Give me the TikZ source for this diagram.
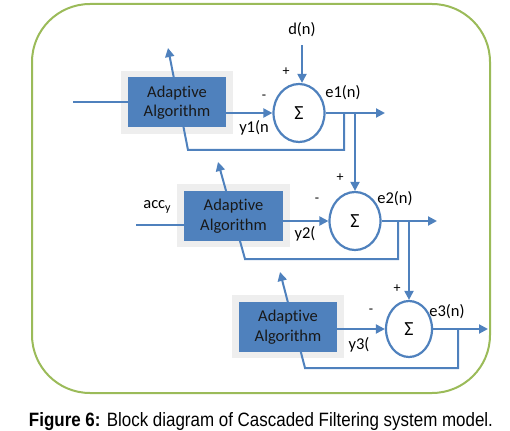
\documentclass[tikz,border=0pt]{standalone}
\usepackage{fontspec}
\setmainfont{Carlito}[Ligatures=NoCommon]
\newfontfamily\capfont{Liberation Sans}
\usetikzlibrary{arrows.meta,positioning,calc,shapes.geometric}
\definecolor{dgblue}{HTML}{4F81BD}
\definecolor{dggreen}{HTML}{9BBB59}
\definecolor{dggray}{HTML}{EEEEEE}

\begin{document}
\begin{tikzpicture}[
  x=1pt, y=-1pt,
  font=\fontsize{16.5}{19.5}\selectfont,
  algbox/.style={fill=dgblue, text=black!90, align=center, minimum width=98pt,
                 minimum height=50pt, inner sep=0pt},
  shadebox/.style={fill=dggray, minimum width=112pt, minimum height=63pt, inner sep=0pt},
  sumnode/.style={ellipse, draw=dgblue, line width=2.2pt, fill=white, minimum width=51pt,
                  minimum height=58pt, inner sep=0pt, font=\fontsize{20}{20}\selectfont},
  arr/.style={-{Triangle[length=9pt,width=9pt]}, dgblue, line width=2pt},
  wire/.style={dgblue, line width=2pt},
  lbl/.style={inner sep=0pt},
  sgn/.style={inner sep=0pt, font=\fontsize{14}{14}\selectfont}
]
\useasboundingbox (0,0) rectangle (510,430);

% outer frame
\draw[dggreen, line width=2pt, rounded corners=58pt] (32,4) rectangle (490,393);

% summing junctions
\node[sumnode] (sum1) at (299,113) {Σ};
\node[sumnode] (sum2) at (355,221) {Σ};
\node[sumnode, minimum width=46pt, minimum height=56pt] (sum3) at (409,329) {Σ};

% grey shading behind the blocks
\node[shadebox] (sh1) at (177,103) {};
\node[shadebox, minimum width=113pt] (sh2) at (233.5,215.5) {};
\node[shadebox] (sh3) at (288,326.5) {};

% feedback paths (pass under the blocks)
\coordinate (tap1) at (344,0 |- sum1.east);
\coordinate (bend1) at (188,150);
\coordinate (tip1) at (168,48);
\coordinate (tap2) at (398,0 |- sum2.east);
\coordinate (bend2) at (245,259);
\coordinate (tip2) at (218,162);
\coordinate (tap3) at (458,0 |- sum3.east);
\coordinate (bend3) at (305,368);
\coordinate (tip3) at (280,272);
\draw[arr] (tap1) |- (bend1) -- (tip1);
\draw[arr] (tap2) |- (bend2) -- (tip2);
\draw[arr] (tap3) |- (bend3) -- (tip3);

% adaptive blocks
\node[algbox] (alg1) at (177,102.5) {Adaptive\\Algorithm};
\node[algbox, minimum width=99pt] (alg2) at (233.5,216) {Adaptive\\Algorithm};
\node[algbox] (alg3) at (288,327) {Adaptive\\Algorithm};

% inputs
\coordinate (in1) at (73,0 |- alg1);
\coordinate (in2) at (136,225);
\draw[wire] (in1) -- (alg1.west);
\draw[wire] (in2) -- (alg2.west |- in2);

% filter outputs into the sums
\draw[arr] (alg1.east |- sum1) -- (sum1.west);
\draw[arr] (alg2.east |- sum2) -- (sum2.west);
\draw[arr] (alg3.east |- sum3) -- (sum3.west);

% error outputs
\coordinate (out1) at (385,0 |- sum1);
\coordinate (out2) at (437,0 |- sum2);
\coordinate (out3) at (488,0 |- sum3);
\draw[arr] (sum1.east) -- (out1);
\draw[arr] (sum2.east) -- (out2);
\draw[arr] (sum3.east) -- (out3);

% cascade
\draw[arr] (sum2.north |- sum1.east) -- (sum2.north);
\draw[arr] (sum3.north |- sum2.east) -- (sum3.north);

% desired signal
\node[lbl] (dn) at (302,30) {d(n)};
\draw[arr] ([yshift=-8pt]dn.south) -- (dn.south |- sum1.north);

% labels
\node[sgn] (m1) at (264,97) {-};
\node[sgn] (p1) at (286,72) {+};
\node[lbl] (e1) at (343,93) {e1(n)};
\node[lbl] (y1) at (254,128) {y1(n};
\node[sgn] (m2) at (317,200) {-};
\node[sgn] (p2) at (340,178) {+};
\node[lbl] (e2) at (395,199) {e2(n)};
\node[lbl] (y2) at (305,234) {y2(};
\node[lbl] (acc) at (157,207) {acc\raisebox{-3pt}{\fontsize{12}{12}\selectfont y}};
\node[sgn] (m3) at (371,311) {-};
\node[sgn] (p3) at (397,289) {+};
\node[lbl] (e3) at (447,312) {e3(n)};
\node[lbl] (y3) at (359,345) {y3(};

% caption
\node[anchor=base, inner sep=0pt] (cap) at (261,426)
  {\resizebox{464pt}{14pt}{\capfont\textbf{Figure 6:} Block diagram of Cascaded Filtering system model.}};

\end{tikzpicture}
\end{document}
